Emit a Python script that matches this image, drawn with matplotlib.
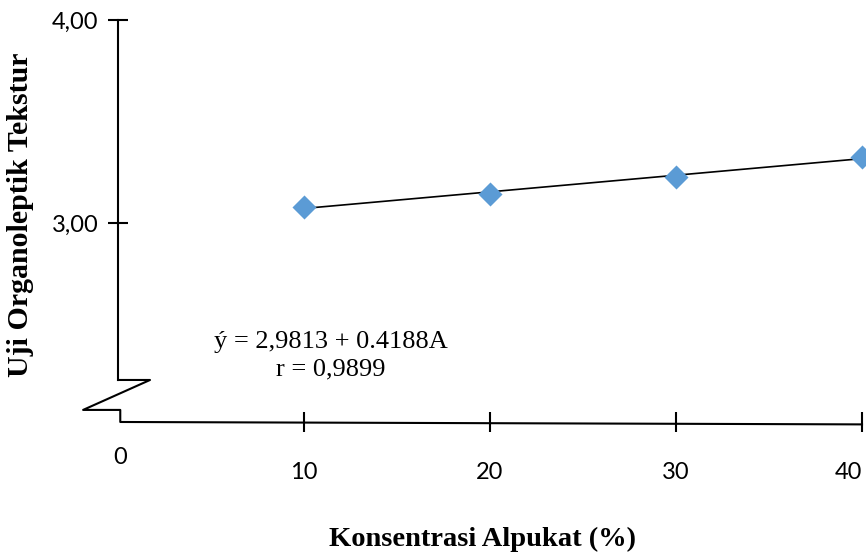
import numpy as np
import matplotlib.pyplot as plt
from matplotlib.lines import Line2D

# Data
konsentrasi = [10, 20, 30, 40]
tekstur = [3.08, 3.145, 3.228, 3.325]
x_ticks = [10, 20, 30, 40]
y_ticks = [3.0, 4.0]
y_ticklabels = ['3,00', '4,00']
persamaan = 'ý = 2,9813 + 0.4188A\nr = 0,9899'

fig = plt.figure(figsize=(8.66, 5.54), dpi=100)
ax = fig.add_axes([0.1363, 0.2383, 0.8591, 0.7256])

# regression line over the data range
k, c = np.polyfit(konsentrasi, tekstur, 1)
xs = np.array([konsentrasi[0], konsentrasi[-1]])
ax.plot(xs, k * xs + c, color='black', lw=1.2, clip_on=False, zorder=2)
ax.scatter(konsentrasi, tekstur, marker='D', s=150, color='#5B9BD5',
           zorder=3, clip_on=False, linewidths=0)

ax.set_xlim(0, 40)
ax.set_ylim(2.02, 4.0)

for s in ax.spines.values():
    s.set_visible(False)

ax.set_yticks(y_ticks)
ax.set_yticklabels(y_ticklabels, fontfamily='Lato', fontsize=17)
ax.set_xticks(x_ticks)
ax.set_xticklabels([str(v) for v in x_ticks], fontfamily='Lato', fontsize=17)
ax.get_xticklabels()[-1].set_ha('right')  # keep "40" inside the picture
ax.tick_params(axis='both', direction='inout', length=14, width=1.5)
ax.tick_params(axis='y', pad=7)
ax.tick_params(axis='x', pad=22)

# broken y axis and x axis drawn by hand (axes coordinates)
tr = ax.transAxes
ax.add_line(Line2D([0, 0], [1, 0.1045], color='black', lw=1.5, transform=tr, clip_on=False))
ax.add_line(Line2D([0, 0.043, -0.047, 0.003, 0.003, 1.0],
                   [0.1045, 0.1045, 0.030, 0.030, 0, -0.006],
                   color='black', lw=1.5, transform=tr, clip_on=False))
ax.text(0.003, -0.062, '0', transform=tr, ha='center', va='top',
        fontfamily='Lato', fontsize=17)

ax.text(11.45, 2.347, persamaan, ha='center', va='center', fontfamily='Liberation Serif',
        fontsize=19, linespacing=1.3)

fig.text(0.557, 0.027, 'Konsentrasi Alpukat (%)', ha='center', va='center',
         fontfamily='Liberation Serif', fontweight='bold', fontsize=20.5)
fig.text(0.024, 0.612, 'Uji Organoleptik Tekstur', ha='center', va='center', rotation=90,
         fontfamily='Liberation Serif', fontweight='bold', fontsize=21.5)

fig.savefig('out.png', dpi=100)
